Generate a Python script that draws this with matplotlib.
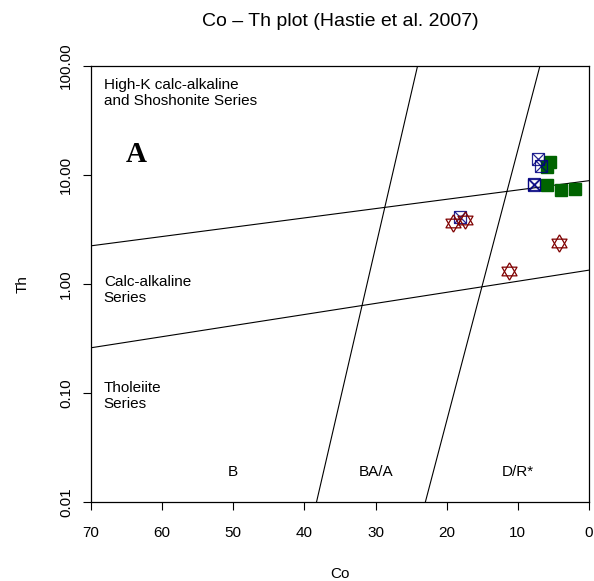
import matplotlib
matplotlib.use('Agg')
import matplotlib.pyplot as plt
from matplotlib.ticker import FixedLocator, FixedFormatter

plt.rcParams['font.family'] = ['Liberation Sans', 'DejaVu Sans']

# boundary lines (Co at Th = 0.01 / 100 for the steep ones, Th at Co = 70 / 0 for the flat ones)
steep_lines = [([38.3, 24.1], [0.01, 100]), ([23.0, 6.9], [0.01, 100])]
flat_lines = [([70, 0], [2.24, 8.87]), ([70, 0], [0.26, 1.34])]

# samples
blue_co = [7.2, 6.8, 7.7, 7.8, 18.1]
blue_th = [13.9, 12.1, 8.3, 8.1, 4.1]
green_co = [5.5, 5.9, 5.9, 3.9, 1.9]
green_th = [13.3, 11.8, 8.1, 7.3, 7.4]
red_co = [19.1, 17.4, 4.2, 11.3]
red_th = [3.6, 3.9, 2.4, 1.33]

x_ticks = [70, 60, 50, 40, 30, 20, 10, 0]
y_ticks = [0.01, 0.1, 1, 10, 100]
y_tick_labels = ['0.01', '0.10', '1.00', '10.00', '100.00']

tri_up = [(0, 1), (-0.866, -0.5), (0.866, -0.5), (0, 1)]
tri_down = [(0, -1), (-0.866, 0.5), (0.866, 0.5), (0, -1)]


def main():
  fig = plt.figure(figsize=(5.94, 5.81), dpi=100)
  ax = fig.add_axes([91 / 594, 1 - 502 / 581, 498 / 594, 436 / 581])
  ax.set_yscale('log')
  ax.set_xlim(70, 0)
  ax.set_ylim(0.01, 100)

  for xs, ys in steep_lines + flat_lines:
    ax.plot(xs, ys, color='black', lw=0.8)

  ax.plot(green_co, green_th, ls='none', marker='s', ms=9, color='#006400', mec='#006400')
  ax.plot(blue_co, blue_th, ls='none', marker='s', ms=8.5, mfc='none', mec='#00007f', mew=0.9, alpha=0.85)
  ax.plot(blue_co, blue_th, ls='none', marker='x', ms=8.5, mec='#00007f', mew=0.9, alpha=0.85)
  ax.plot(red_co, red_th, ls='none', marker=tri_up, ms=12.5, mfc='none', mec='#7f0000', mew=0.9)
  ax.plot(red_co, red_th, ls='none', marker=tri_down, ms=12.5, mfc='none', mec='#7f0000', mew=0.9)

  ax.text(68.2, 56.5, 'High-K calc-alkaline\nand Shoshonite Series', ha='left', va='center', fontsize=11)
  ax.text(68.2, 0.88, 'Calc-alkaline\nSeries', ha='left', va='center', fontsize=11)
  ax.text(68.2, 0.094, 'Tholeiite\nSeries', ha='left', va='center', fontsize=11)
  ax.text(50, 0.0188, 'B', ha='center', va='center', fontsize=11)
  ax.text(30, 0.0188, 'BA/A', ha='center', va='center', fontsize=11)
  ax.text(10, 0.0188, 'D/R*', ha='center', va='center', fontsize=11)
  ax.text(63.6, 13.2, 'A', ha='center', va='baseline', fontsize=21, fontweight='bold',
          family=['Liberation Serif', 'DejaVu Serif'])

  ax.xaxis.set_major_locator(FixedLocator(x_ticks))
  ax.set_xticklabels([str(t) for t in x_ticks])
  ax.yaxis.set_major_locator(FixedLocator(y_ticks))
  ax.yaxis.set_major_formatter(FixedFormatter(y_tick_labels))
  ax.yaxis.set_minor_locator(FixedLocator([]))
  ax.tick_params(direction='out', length=6, width=0.8, labelsize=11)
  ax.tick_params(axis='x', pad=11)
  ax.tick_params(axis='y', pad=7)
  plt.setp(ax.get_yticklabels(), rotation=90, va='center')
  for s in ax.spines.values():
    s.set_linewidth(0.9)

  ax.set_xlabel('Co', fontsize=11, labelpad=20)
  ax.set_ylabel('Th', fontsize=11, labelpad=21)
  fig.text(340 / 594, 1 - 22 / 581, 'Co – Th plot (Hastie et al. 2007)', ha='center', va='center', fontsize=14)

  fig.savefig('out.png', dpi=100)


if __name__ == '__main__':
  main()
